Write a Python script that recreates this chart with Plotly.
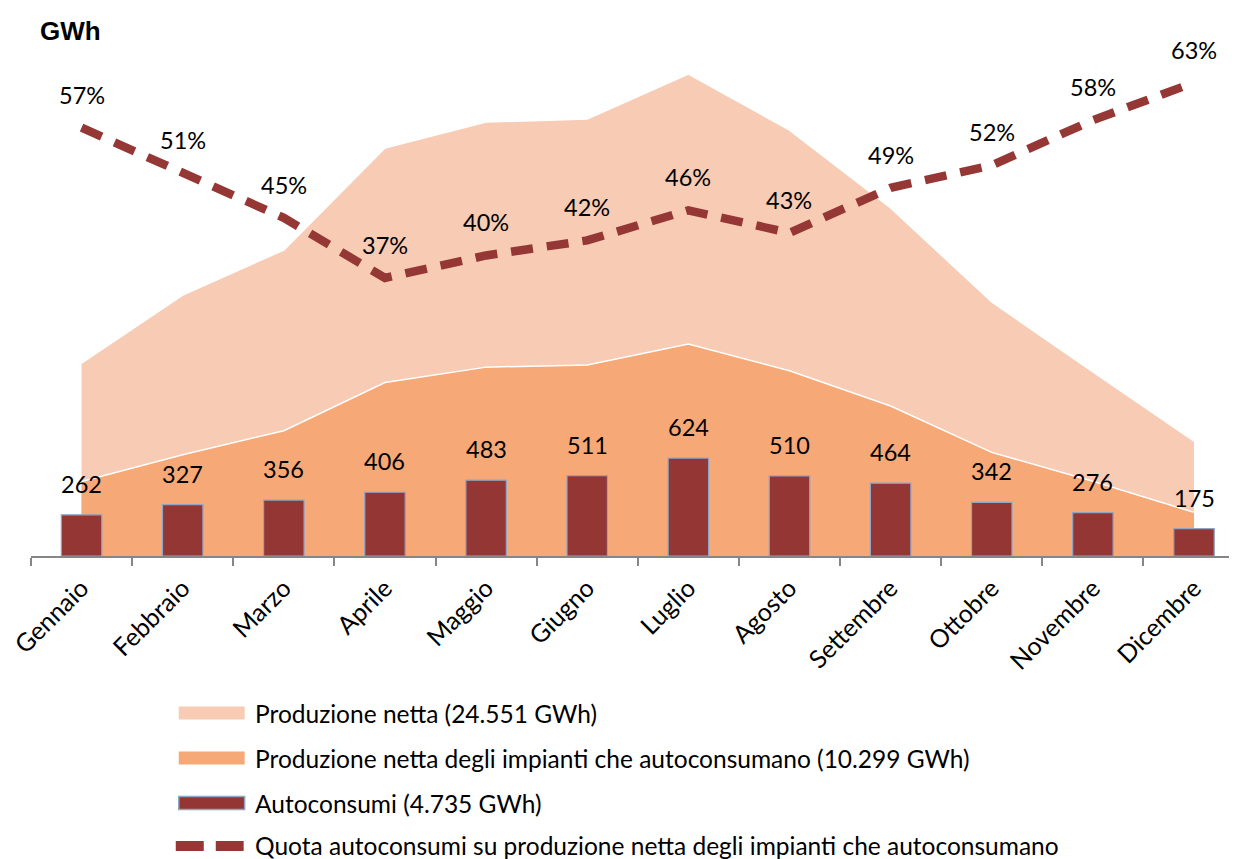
import plotly.graph_objects as go

# ---------------- data ----------------
months = ["Gennaio", "Febbraio", "Marzo", "Aprile", "Maggio", "Giugno",
          "Luglio", "Agosto", "Settembre", "Ottobre", "Novembre", "Dicembre"]
produzione_netta = [1229, 1662, 1949, 2599, 2764, 2783, 3070, 2713, 2217, 1618, 1172, 732]
produzione_autoconsumo = [475, 645, 798, 1105, 1203, 1217, 1350, 1180, 955, 660, 476, 278]
autoconsumi = [262, 327, 356, 406, 483, 511, 624, 510, 464, 342, 276, 175]
quota = [0.57, 0.51, 0.45, 0.37, 0.40, 0.42, 0.46, 0.43, 0.49, 0.52, 0.58, 0.63]
series_names = [
    "Produzione netta (24.551 GWh)",
    "Produzione netta degli impianti che autoconsumano (10.299 GWh)",
    "Autoconsumi (4.735 GWh)",
    "Quota autoconsumi su produzione netta degli impianti che autoconsumano",
]
unit_label = "GWh"

# ---------------- style ----------------
OFF = 8                      # default page body margin
W, H = 1237 - OFF, 859 - OFF
L, T, R = 29 - OFF, 30 - OFF, 0
BASE = 556 - OFF
B = H - BASE
PW, PH = W - L - R, BASE - T

LIGHT = "#F8CBB4"
ORANGE = "#F6A977"
BAR = "#943634"
BORDER = "#8FA5C8"
LINE = "#953735"
AXIS = "#868686"
FONT = "Lato"


def px(xp):
    # reference pixel -> paper
    return (xp - OFF - L) / PW


def py(yp):
    return (BASE - (yp - OFF)) / PH


fig = go.Figure()
fig.add_trace(go.Scatter(x=months, y=produzione_netta, name=series_names[0], mode="lines",
                         fill="tozeroy", fillcolor=LIGHT,
                         line=dict(color="white", width=1.5), yaxis="y", showlegend=False))
fig.add_trace(go.Scatter(x=months, y=produzione_autoconsumo, name=series_names[1], mode="lines",
                         fill="tozeroy", fillcolor=ORANGE,
                         line=dict(color="white", width=1.5), yaxis="y", showlegend=False))
fig.add_trace(go.Bar(x=months, y=autoconsumi, name=series_names[2], width=0.4,
                     marker=dict(color=BAR, line=dict(color=BORDER, width=1.2)),
                     yaxis="y2", showlegend=False))
fig.add_trace(go.Scatter(x=months, y=quota, name=series_names[3], mode="lines",
                         line=dict(color=LINE, width=8.5, dash="22px,14px"),
                         yaxis="y3", showlegend=False))

ymax = PH / 0.157
annotations = []
for m, v in zip(months, autoconsumi):
    annotations.append(dict(x=m, y=v, xref="x", yref="y2", text=str(v), showarrow=False,
                            yshift=31, yanchor="middle",
                            font=dict(family=FONT, size=23.5, color="black")))
for m, q in zip(months, quota):
    annotations.append(dict(x=m, y=q, xref="x", yref="y3", text=f"{round(q * 100)}%",
                            showarrow=False, yshift=33, yanchor="middle",
                            font=dict(family=FONT, size=23.5, color="black")))

annotations.append(dict(x=px(36), y=py(31), xref="paper", yref="paper", text=f"<b>{unit_label}</b>",
                        showarrow=False, xanchor="left", yanchor="middle",
                        font=dict(family="Liberation Sans", size=26, color="black")))

# custom legend
rows = [713, 758, 803, 845]
shapes = []
shapes.append(dict(type="rect", xref="paper", yref="paper", x0=px(177), x1=px(243),
                   y0=py(rows[0] + 6.5), y1=py(rows[0] - 6.5), fillcolor=LIGHT, line=dict(width=0)))
shapes.append(dict(type="rect", xref="paper", yref="paper", x0=px(177), x1=px(243),
                   y0=py(rows[1] + 6.5), y1=py(rows[1] - 6.5), fillcolor=ORANGE, line=dict(width=0)))
shapes.append(dict(type="rect", xref="paper", yref="paper", x0=px(177), x1=px(243),
                   y0=py(rows[2] + 6.5), y1=py(rows[2] - 6.5), fillcolor=BAR,
                   line=dict(color=BORDER, width=1.5)))
shapes.append(dict(type="line", xref="paper", yref="paper", x0=px(174), x1=px(242),
                   y0=py(rows[3] + 1), y1=py(rows[3] + 1),
                   line=dict(color=LINE, width=10, dash="28px,12px")))
for name, r in zip(series_names, rows):
    annotations.append(dict(x=px(251), y=py(r), xref="paper", yref="paper", text=name,
                            showarrow=False, xanchor="left", yanchor="middle",
                            font=dict(family=FONT, size=24.5, color="black")))

fig.update_layout(
    width=W, height=H,
    margin=dict(l=L, r=R, t=T, b=B),
    paper_bgcolor="white", plot_bgcolor="white",
    showlegend=False,
    xaxis=dict(type="category", range=[-0.5, 11.425], showline=True, linecolor=AXIS,
               linewidth=1.5, ticks="outside", ticklen=8, tickcolor=AXIS, tickwidth=1.5,
               tickson="boundaries", tickangle=-45, showgrid=False, zeroline=False,
               ticklabelstandoff=6,
               tickfont=dict(family=FONT, size=25, color="black")),
    yaxis=dict(range=[0, ymax], visible=False),
    yaxis2=dict(range=[0, ymax], overlaying="y", visible=False),
    yaxis3=dict(range=[0, 0.70], overlaying="y", visible=False),
    annotations=annotations,
    shapes=shapes,
)

fig.write_html("out.html")
